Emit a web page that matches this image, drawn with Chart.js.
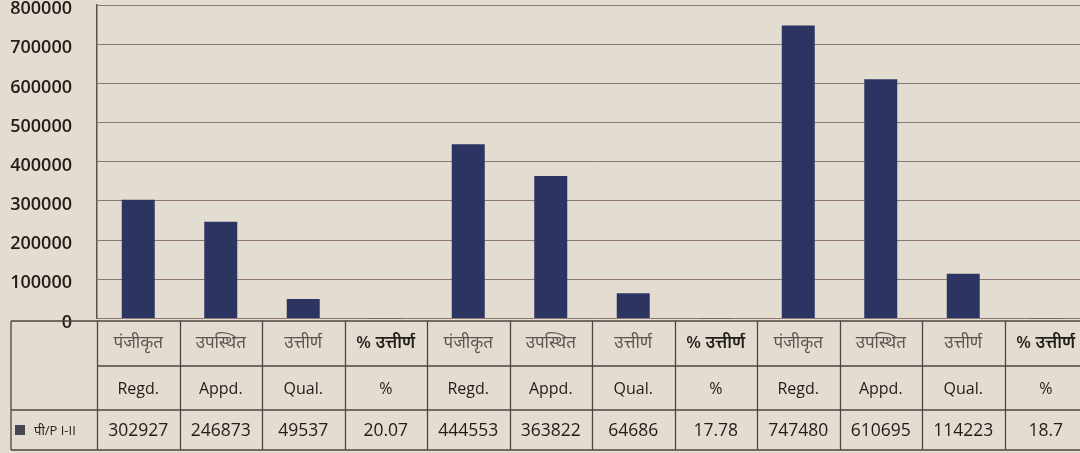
<!DOCTYPE html>
<html>
<head>
<meta charset="utf-8">
<script src="https://cdn.jsdelivr.net/npm/chart.js@4.4.1/dist/chart.umd.min.js"></script>
<style>
  html, body { margin: 0; padding: 0; background: #e3ddd1; overflow: hidden; }
  #wrap { width: 1088px; height: 453px; position: relative; }
</style>
</head>
<body>
<div id="wrap"><canvas id="chart"></canvas></div>
<script>
// chart data
const labelsHi = ['पंजीकृत', 'उपस्थित', 'उत्तीर्ण', '% उत्तीर्ण', 'पंजीकृत', 'उपस्थित', 'उत्तीर्ण', '% उत्तीर्ण', 'पंजीकृत', 'उपस्थित', 'उत्तीर्ण', '% उत्तीर्ण'];
const labelsEn = ['Regd.', 'Appd.', 'Qual.', '%', 'Regd.', 'Appd.', 'Qual.', '%', 'Regd.', 'Appd.', 'Qual.', '%'];
const values = [302927, 246873, 49537, 20.07, 444553, 363822, 64686, 17.78, 747480, 610695, 114223, 18.7];
const valueText = ['302927', '246873', '49537', '20.07', '444553', '363822', '64686', '17.78', '747480', '610695', '114223', '18.7'];
const seriesName = 'पी/P I-II';
const yMax = 800000;
const yStep = 100000;

const barColor = '#2c3462';
const lineColor = '#4e4442';
const latinFont = "'Open Sans', 'Liberation Sans', sans-serif";
const devaFont = "'Open Sans', 'Noto Sans Devanagari', 'Noto Sans', 'Lohit Devanagari', 'FreeSans', sans-serif";

// table rows below the plot
const tableTop = 321, rowLine1 = 366, rowLine2 = 410, tableBottom = 450, tableLeft = 11;

const dataTable = {
  id: 'dataTable',
  afterDraw(chart) {
    const ctx = chart.ctx;
    const x = chart.scales.x;
    const half = (x.right - x.left) / labelsEn.length / 2;
    ctx.save();
    ctx.strokeStyle = lineColor;
    ctx.lineWidth = 1.3;

    ctx.beginPath();
    ctx.moveTo(tableLeft, tableTop); ctx.lineTo(x.right, tableTop);
    ctx.moveTo(x.left, rowLine1); ctx.lineTo(x.right, rowLine1);
    ctx.moveTo(tableLeft, rowLine2); ctx.lineTo(x.right, rowLine2);
    ctx.moveTo(tableLeft, tableBottom); ctx.lineTo(x.right, tableBottom);
    ctx.moveTo(tableLeft, tableTop); ctx.lineTo(tableLeft, tableBottom);
    for (let i = 0; i < labelsEn.length; i++) {
      const cx = x.getPixelForValue(i);
      ctx.moveTo(Math.round(cx - half) + 0.5, tableTop);
      ctx.lineTo(Math.round(cx - half) + 0.5, tableBottom);
    }
    ctx.stroke();

    ctx.textAlign = 'center';
    ctx.textBaseline = 'middle';
    labelsEn.forEach((lab, i) => {
      const cx = x.getPixelForValue(i);
      ctx.fillStyle = (i % 4 === 3) ? '#241e1b' : '#5e5550';
      ctx.font = ((i % 4 === 3) ? '600 ' : '') + '17px ' + devaFont;
      ctx.fillText(labelsHi[i], cx, (tableTop + rowLine1) / 2);
      ctx.fillStyle = '#221c19';
      ctx.font = '16px ' + latinFont;
      ctx.fillText(lab, cx, (rowLine1 + rowLine2) / 2 + 1);
      ctx.font = '500 17.5px ' + latinFont;
      ctx.fillText(valueText[i], cx, (rowLine2 + tableBottom) / 2 + 1);
    });

    // legend key + series name
    const ry = (rowLine2 + tableBottom) / 2;
    ctx.fillStyle = '#47474f';
    ctx.fillRect(15, ry - 5, 10, 10);
    ctx.fillStyle = '#2a2420';
    ctx.textAlign = 'left';
    ctx.font = '13px ' + devaFont;
    ctx.fillText(seriesName, 34, ry + 1);
    ctx.restore();
  }
};

new Chart(document.getElementById('chart'), {
  type: 'bar',
  data: {
    labels: labelsEn,
    datasets: [{
      label: seriesName,
      data: values,
      backgroundColor: barColor,
      categoryPercentage: 1,
      barPercentage: 0.4
    }]
  },
  options: {
    responsive: true,
    maintainAspectRatio: false,
    animation: false,
    layout: { padding: { top: 5, left: 0, right: 1, bottom: 134.5 } },
    plugins: { legend: { display: false }, tooltip: { enabled: false } },
    scales: {
      x: { display: false },
      y: {
        min: 0,
        max: yMax,
        afterFit(scale) {
          scale.width = 97;
          scale.paddingTop = 0;
          scale.paddingBottom = 0;
        },
        ticks: {
          stepSize: yStep,
          padding: 25,
          labelOffset: 4,
          color: '#221c19',
          font: { family: latinFont, size: 18, weight: '600' },
          callback: v => String(v)
        },
        grid: { color: '#8f7773', lineWidth: 1, drawTicks: false },
        border: { display: true, color: '#5e5050', width: 1.5 }
      }
    }
  },
  plugins: [dataTable]
});
</script>
</body>
</html>
